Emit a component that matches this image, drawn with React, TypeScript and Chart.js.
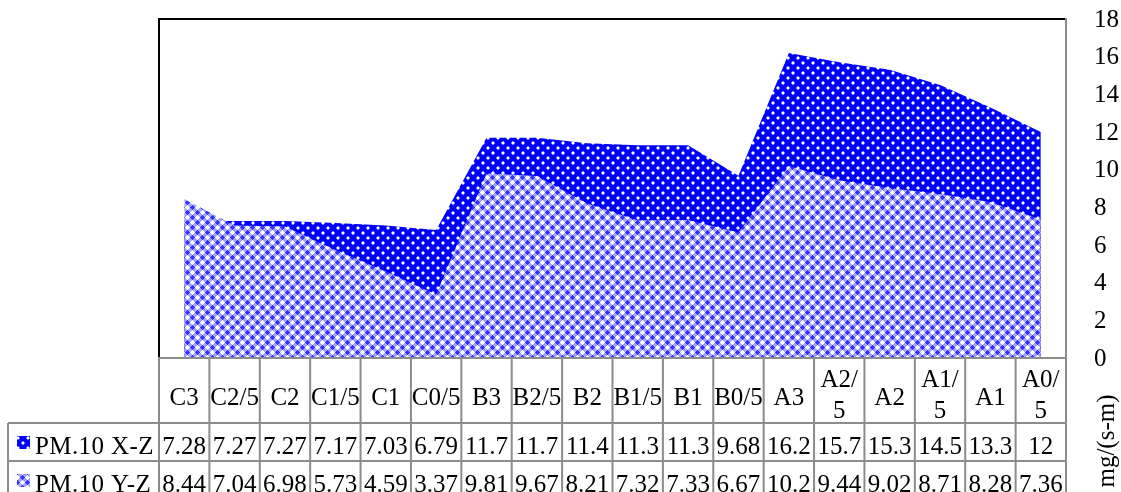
import React, { useEffect, useRef } from 'react';
import { Chart, registerables } from 'chart.js';

Chart.register(...registerables);

const categories = ['C3', 'C2/5', 'C2', 'C1/5', 'C1', 'C0/5', 'B3', 'B2/5', 'B2', 'B1/5', 'B1', 'B0/5', 'A3', 'A2/5', 'A2', 'A1/5', 'A1', 'A0/5'];
const categoryLines = [['C3'], ['C2/5'], ['C2'], ['C1/5'], ['C1'], ['C0/5'], ['B3'], ['B2/5'], ['B2'], ['B1/5'], ['B1'], ['B0/5'], ['A3'], ['A2/', '5'], ['A2'], ['A1/', '5'], ['A1'], ['A0/', '5']];
const xzValues = [7.28, 7.27, 7.27, 7.17, 7.03, 6.79, 11.7, 11.7, 11.4, 11.3, 11.3, 9.68, 16.2, 15.7, 15.3, 14.5, 13.3, 12];
const yzValues = [8.44, 7.04, 6.98, 5.73, 4.59, 3.37, 9.81, 9.67, 8.21, 7.32, 7.33, 6.67, 10.2, 9.44, 9.02, 8.71, 8.28, 7.36];
const seriesNames = ['PM.10 X-Z', 'PM.10 Y-Z'];
const yTicks = [0, 2, 4, 6, 8, 10, 12, 14, 16, 18];
const yTitle = 'mg/(s-m)';

const FONT = '25px "Liberation Serif", "Times New Roman", serif';

function makeDotPattern(): CanvasPattern | string {
  const c = document.createElement('canvas');
  c.width = 10; c.height = 10;
  const g = c.getContext('2d');
  if (!g) return '#0000ff';
  g.fillStyle = '#0000ff';
  g.fillRect(0, 0, 10, 10);
  g.fillStyle = '#7a7aff';
  g.fillRect(1, 2, 4, 2); g.fillRect(2, 1, 2, 4);
  g.fillRect(6, 7, 4, 2); g.fillRect(7, 6, 2, 4);
  g.fillStyle = '#ffffff';
  g.fillRect(2, 2, 2, 2);
  g.fillRect(7, 7, 2, 2);
  return g.createPattern(c, 'repeat') || '#0000ff';
}

function makeCrossPattern(): CanvasPattern | string {
  const c = document.createElement('canvas');
  c.width = 10; c.height = 10;
  const g = c.getContext('2d');
  if (!g) return '#8080ff';
  const W = [[2.5, 2.5], [7.5, 7.5]];
  const B = [[7.5, 2.5], [2.5, 7.5]];
  const near = (px: number, py: number, pts: number[][]) => {
    let m = 1e9;
    for (const [x, y] of pts) {
      for (let ox = -10; ox <= 10; ox += 10) {
        for (let oy = -10; oy <= 10; oy += 10) {
          const d = Math.abs(px - x - ox) + Math.abs(py - y - oy);
          if (d < m) m = d;
        }
      }
    }
    return m;
  };
  for (let y = 0; y < 10; y++) {
    for (let x = 0; x < 10; x++) {
      const dW = near(x + 0.5, y + 0.5, W);
      const dB = near(x + 0.5, y + 0.5, B);
      const t = dW / (dW + dB);
      let col;
      if (t < 0.42) col = '#ffffff';
      else if (t < 0.58) col = '#a4a4ff';
      else col = '#3434ff';
      g.fillStyle = col;
      g.fillRect(x, y, 1, 1);
    }
  }
  return g.createPattern(c, 'repeat') || '#8080ff';
}

export default function App() {
  const ref = useRef<HTMLCanvasElement | null>(null);

  useEffect(() => {
    const canvas = ref.current;
    if (!canvas) return;
    const dotPat = makeDotPattern();
    const crossPat = makeCrossPattern();

    const tablePlugin = {
      id: 'dataTable',
      afterDraw(chart: any) {
        const ctx = chart.ctx as CanvasRenderingContext2D;
        const area = chart.chartArea;
        const xs = chart.scales.x;
        const ys = chart.scales.y;
        const n = categories.length;
        const colW = (area.right - area.left) / n;
        const top = area.bottom;
        const hdrH = 65;
        const rowH = 38;
        const tableLeft = 8;
        const tableBottom = chart.height + 10;
        ctx.save();

        // frame of plot
        ctx.strokeStyle = '#000000';
        ctx.lineWidth = 2;
        ctx.beginPath();
        ctx.moveTo(area.left, area.bottom);
        ctx.lineTo(area.left, area.top);
        ctx.lineTo(area.right, area.top);
        ctx.stroke();

        // table grid
        ctx.strokeStyle = '#8c8c8c';
        ctx.lineWidth = 2;
        ctx.beginPath();
        ctx.moveTo(area.right, area.top - 1);
        ctx.lineTo(area.right, top);
        ctx.moveTo(area.left - 1, top);
        ctx.lineTo(area.right + 1, top);
        ctx.moveTo(tableLeft, top + hdrH);
        ctx.lineTo(area.right, top + hdrH);
        ctx.moveTo(tableLeft, top + hdrH + rowH);
        ctx.lineTo(area.right, top + hdrH + rowH);
        for (let i = 0; i <= n; i++) {
          const x = area.left + i * colW;
          ctx.moveTo(x, top);
          ctx.lineTo(x, tableBottom);
        }
        ctx.moveTo(tableLeft, top + hdrH);
        ctx.lineTo(tableLeft, tableBottom);
        ctx.stroke();

        ctx.fillStyle = '#000000';
        ctx.font = FONT;
        ctx.textAlign = 'center';
        ctx.textBaseline = 'alphabetic';
        for (let i = 0; i < n; i++) {
          const cx = xs.getPixelForValue(i);
          const lines = categoryLines[i];
          if (lines.length === 1) {
            ctx.fillText(lines[0], cx, top + 47);
          } else {
            ctx.fillText(lines[0], cx, top + 29);
            ctx.fillText(lines[1], cx, top + 60);
          }
          ctx.fillText(String(xzValues[i]), cx, top + hdrH + 31);
          ctx.fillText(String(yzValues[i]), cx, top + hdrH + rowH + 31);
        }

        // y tick labels
        ctx.textAlign = 'left';
        ctx.textBaseline = 'middle';
        for (const v of yTicks) {
          ctx.fillText(String(v), area.right + 28, ys.getPixelForValue(v) + 1);
        }

        // row headers
        const pats = [dotPat, crossPat];
        ctx.textBaseline = 'alphabetic';
        for (let r = 0; r < 2; r++) {
          const rowTop = top + hdrH + r * rowH;
          ctx.fillStyle = pats[r] as any;
          ctx.fillRect(17, rowTop + 13, 13, 13);
          ctx.fillStyle = '#000000';
          try { (ctx as any).letterSpacing = '0.4px'; } catch (e) { /* ignore */ }
          ctx.fillText(seriesNames[r], 35, rowTop + 31);
          try { (ctx as any).letterSpacing = '0px'; } catch (e) { /* ignore */ }
        }

        // y axis title
        ctx.translate(1107, 441);
        ctx.rotate(-Math.PI / 2);
        ctx.textAlign = 'center';
        ctx.textBaseline = 'middle';
        ctx.fillText(yTitle, 0, 0);
        ctx.restore();
      },
    };

    const chart = new Chart(canvas, {
      type: 'line',
      data: {
        labels: categories,
        datasets: [
          {
            label: seriesNames[0],
            data: xzValues,
            backgroundColor: dotPat as any,
            borderColor: 'transparent',
            borderWidth: 0,
            pointRadius: 0,
            tension: 0,
            fill: 'origin',
            order: 1,
          },
          {
            label: seriesNames[1],
            data: yzValues,
            backgroundColor: crossPat as any,
            borderColor: 'transparent',
            borderWidth: 0,
            pointRadius: 0,
            tension: 0,
            fill: 'origin',
            order: 0,
          },
        ],
      },
      options: {
        responsive: false,
        animation: false,
        devicePixelRatio: 1,
        layout: { padding: { left: 159, top: 19, bottom: 134, right: 0 } },
        plugins: {
          legend: { display: false },
          tooltip: { enabled: false },
          title: { display: false },
        },
        scales: {
          x: {
            type: 'category',
            display: false,
            offset: true,
          },
          y: {
            position: 'right',
            min: 0,
            max: 18,
            afterBuildTicks: (scale: any) => {
              scale.ticks = yTicks.map((v) => ({ value: v }));
            },
            afterFit: (scale: any) => {
              scale.width = 55;
            },
            grid: { display: false },
            border: { display: false },
            ticks: { display: false },
          },
        },
      },
      plugins: [tablePlugin],
    });

    return () => chart.destroy();
  }, []);

  return (
    <div style={{ position: 'absolute', left: 0, top: 0, width: 1121, height: 492, background: '#ffffff' }}>
      <canvas ref={ref} width={1121} height={492} style={{ display: 'block' }} />
    </div>
  );
}
